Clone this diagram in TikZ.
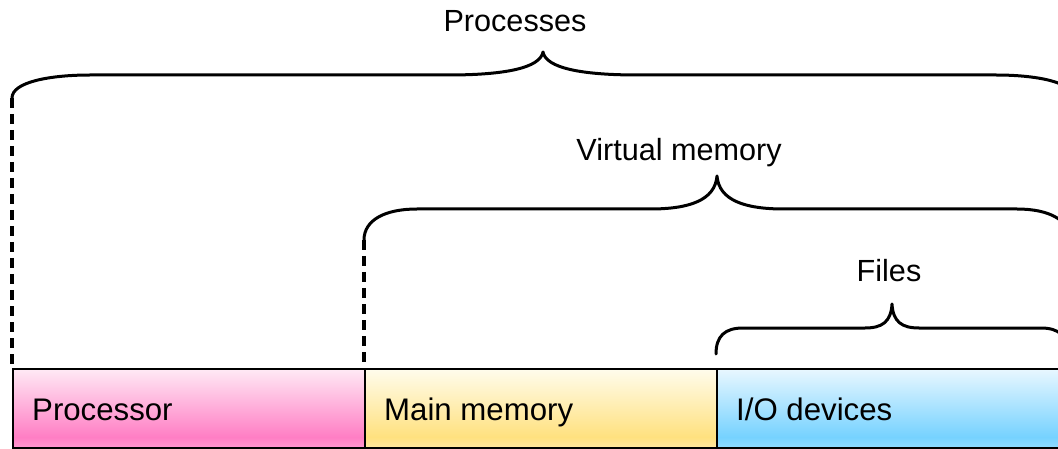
\documentclass[tikz,border=0pt]{standalone}
\usepackage{fontspec}
\setmainfont{Liberation Sans}

% Glossy vertical gradients for the three hardware blocks
% (the filled path spans 25bp at the bottom to 75bp at the top)
\definecolor{pinkTop}{HTML}{FFE9F5}
\definecolor{pinkDeep}{HTML}{FF7EC4}
\definecolor{pinkBot}{HTML}{FF9AD0}
\definecolor{yelTop}{HTML}{FFFCEC}
\definecolor{yelDeep}{HTML}{FFE17F}
\definecolor{yelBot}{HTML}{FFE8A2}
\definecolor{bluTop}{HTML}{E8F7FF}
\definecolor{bluDeep}{HTML}{76D2FF}
\definecolor{bluBot}{HTML}{92DCFF}

\pgfdeclareverticalshading{procshade}{100bp}{color(0bp)=(pinkBot); color(25bp)=(pinkBot);
  color(32bp)=(pinkDeep); color(75bp)=(pinkTop); color(100bp)=(pinkTop)}
\pgfdeclareverticalshading{memshade}{100bp}{color(0bp)=(yelBot); color(25bp)=(yelBot);
  color(32bp)=(yelDeep); color(75bp)=(yelTop); color(100bp)=(yelTop)}
\pgfdeclareverticalshading{ioshade}{100bp}{color(0bp)=(bluBot); color(25bp)=(bluBot);
  color(32bp)=(bluDeep); color(75bp)=(bluTop); color(100bp)=(bluTop)}

\tikzset{
  block/.style={draw=black, line width=2.4pt, rectangle, minimum width=352pt,
    minimum height=79pt, anchor=north west, inner sep=0pt},
  blocktext/.style={anchor=base west, inner sep=0pt, font=\fontsize{31.2}{36}\selectfont},
  bracelabel/.style={anchor=base, inner sep=0pt, font=\fontsize{30.6}{36}\selectfont},
  brace/.style={draw=black, line width=3pt, line cap=round, line join=round},
  guide/.style={draw=black, line width=3.2pt, dash pattern=on 10pt off 6pt}
}

\begin{document}
\begin{tikzpicture}[x=1pt, y=-1pt]
  \useasboundingbox (0,0) rectangle (1058,449);
  \clip (0,0) rectangle (1058,449);

  % hardware blocks
  \node[block, shading=procshade] (proc) at (12,368) {};
  \node[block, shading=memshade]  (mem)  at (364,368) {};
  \node[block, shading=ioshade]   (io)   at (716,368) {};

  \node[blocktext] (proctext) at (32,420)  {Processor};
  \node[blocktext] (memtext)  at (384,420) {Main memory};
  \node[blocktext] (iotext)   at (736,420) {I/O devices};

  % brace ends
  \coordinate (pL) at (12,98);
  \coordinate (vL) at (364,240);
  \coordinate (fL) at (716,354);

  % Processes brace
  \draw[brace] (pL) .. controls (12,82) and (50,75) .. (90,75) -- (448,75)
    .. controls (505,75) and (540,68) .. (543,52)
    .. controls (546,68) and (581,75) .. (638,75) -- (996,75)
    .. controls (1036,75) and (1074,82) .. (1074,98);
  % Virtual memory brace
  \draw[brace] (vL) .. controls (364,220) and (385,209) .. (417,209) -- (650,209)
    .. controls (690,209) and (715,200) .. (717,176)
    .. controls (719,200) and (744,209) .. (784,209) -- (1017,209)
    .. controls (1049,209) and (1070,220) .. (1070,240);
  % Files brace
  \draw[brace] (fL) .. controls (716,336) and (725,328) .. (743,328) -- (865,328)
    .. controls (882,328) and (891,322) .. (892,304)
    .. controls (893,322) and (902,328) .. (919,328) -- (1041,328)
    .. controls (1059,328) and (1068,336) .. (1068,354);

  % dashed guides from brace ends down to the blocks
  \draw[guide] (pL) -- (proc.north west);
  \draw[guide] (vL) -- (mem.north west);

  % labels
  \node[bracelabel] (plabel) at (515,32)  {Processes};
  \node[bracelabel] (vlabel) at (679,161) {Virtual memory};
  \node[bracelabel] (flabel) at (889,281) {Files};
\end{tikzpicture}
\end{document}
